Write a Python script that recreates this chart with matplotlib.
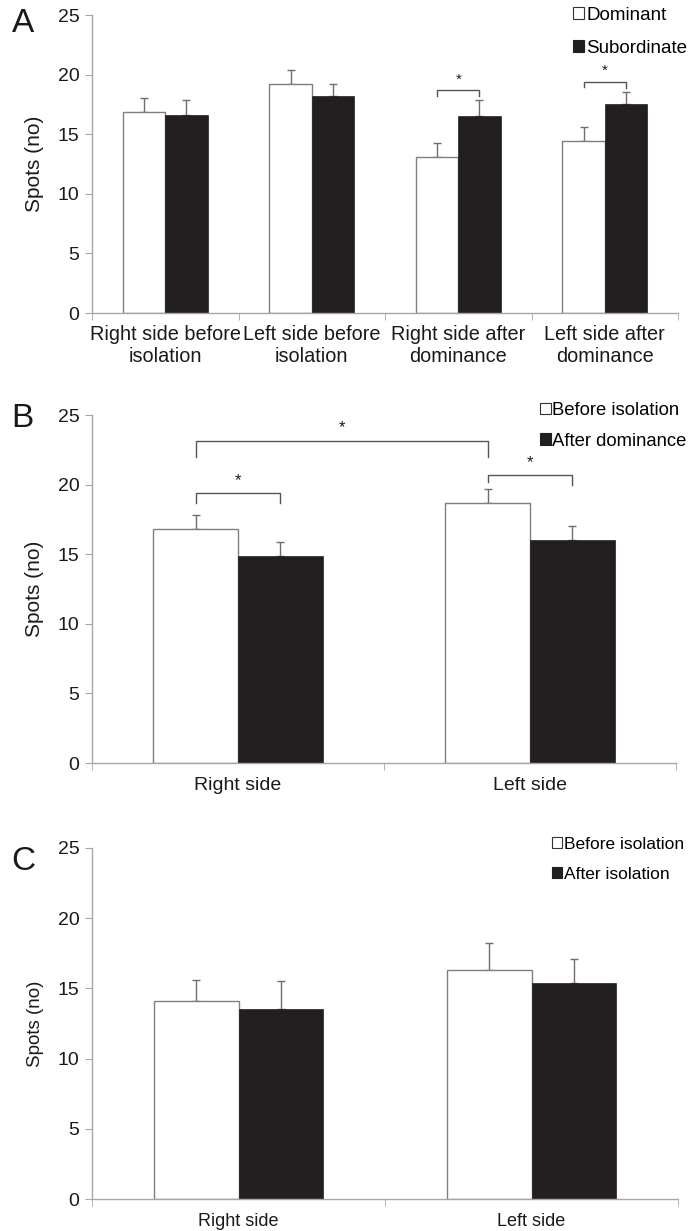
import matplotlib
matplotlib.use("Agg")
import matplotlib.pyplot as plt
from matplotlib.patches import Patch
import numpy as np

plt.rcParams['font.family'] = ['Liberation Sans', 'DejaVu Sans']

# ---------------- data ----------------
a_categories = ["Right side before\nisolation", "Left side before\nisolation",
                "Right side after\ndominance", "Left side after\ndominance"]
a_series = ["Dominant", "Subordinate"]
a_dominant = [16.9, 19.2, 13.1, 14.4]
a_dominant_err = [1.1, 1.2, 1.2, 1.2]
a_subordinate = [16.6, 18.2, 16.5, 17.5]
a_subordinate_err = [1.3, 1.0, 1.4, 1.0]

b_categories = ["Right side", "Left side"]
b_series = ["Before isolation", "After dominance"]
b_before = [16.8, 18.7]
b_before_err = [1.0, 1.0]
b_after = [14.9, 16.0]
b_after_err = [1.0, 1.0]

c_categories = ["Right side", "Left side"]
c_series = ["Before isolation", "After isolation"]
c_before = [14.1, 16.3]
c_before_err = [1.5, 1.9]
c_after = [13.5, 15.4]
c_after_err = [2.0, 1.7]

yticks = [0, 5, 10, 15, 20, 25]

# ---------------- style ----------------
W, H = 692, 1231
DARK = "#231f20"
EDGE = "#7f7f7f"
SPINE = "#a6a6a6"
ERR = "#6e6e6e"
TXT = "#1a1a1a"
BW = 0.29

fig = plt.figure(figsize=(W / 100, H / 100), dpi=100)


def px_axes(l, t, r, b):
    return fig.add_axes([l / W, 1 - b / H, (r - l) / W, (b - t) / H])


def draw_panel(ax, cats, v1, e1, v2, e2, tick_fs, xl_fs, yl_fs, xpad):
    n = len(cats)
    x = np.arange(n)
    ax.bar(x - BW / 2, v1, BW, color="white", edgecolor=EDGE, linewidth=1.0, zorder=2)
    ax.bar(x + BW / 2, v2, BW, color=DARK, edgecolor=DARK, linewidth=0.5, zorder=2)
    ax.errorbar(x - BW / 2, v1, yerr=[np.zeros(n), e1], fmt="none", ecolor=ERR,
                elinewidth=1.0, capsize=3, capthick=1.0, zorder=1)
    ax.errorbar(x + BW / 2, v2, yerr=[np.zeros(n), e2], fmt="none", ecolor=ERR,
                elinewidth=1.0, capsize=3, capthick=1.0, zorder=1)
    ax.set_xlim(-0.5, n - 0.5)
    ax.set_ylim(0, 25)
    ax.set_yticks(yticks)
    ax.set_xticks(x)
    ax.set_xticklabels(cats, fontsize=xl_fs, color=TXT, linespacing=1.15)
    ax.set_xticks(np.arange(n + 1) - 0.5, minor=True)
    ax.tick_params(axis="x", which="major", length=0, pad=xpad)
    ax.tick_params(axis="x", which="minor", length=5, color=SPINE, direction="out")
    ax.tick_params(axis="y", length=5, color=SPINE, direction="out", labelsize=tick_fs,
                   labelcolor=TXT, pad=4)
    for s in ("top", "right"):
        ax.spines[s].set_visible(False)
    for s in ("left", "bottom"):
        ax.spines[s].set_color(SPINE)
        ax.spines[s].set_linewidth(1.0)
    ax.set_ylabel("Spots (no)", fontsize=yl_fs, color=TXT)
    ax.yaxis.set_label_coords(-0.082, 0.5)
    ax.set_facecolor("none")


def bracket(ax, x0, x1, top, leg0, leg1, star_y, fs=12):
    ax.plot([x0, x0, x1, x1], [leg0, top, top, leg1], color="#555555", lw=1.0, zorder=3)
    ax.text((x0 + x1) / 2, star_y, "*", ha="center", va="center", fontsize=fs, color=TXT)


def legend(ax, labels, left, top, fs, spacing, pad=0.15):
    handles = [Patch(facecolor="white", edgecolor="#333333", linewidth=0.8),
               Patch(facecolor=DARK, edgecolor=DARK, linewidth=0.8)]
    ax.legend(handles, labels, loc="upper left", bbox_to_anchor=(left / W, 1 - top / H),
              bbox_transform=fig.transFigure, frameon=False, fontsize=fs,
              handlelength=0.6, handleheight=0.6, handletextpad=pad,
              labelspacing=spacing, borderpad=0, borderaxespad=0)


# ---------------- Panel A ----------------
axA = px_axes(92, 15, 678, 313)
draw_panel(axA, a_categories, a_dominant, a_dominant_err, a_subordinate, a_subordinate_err,
           tick_fs=14, xl_fs=14.3, yl_fs=15, xpad=9)
bracket(axA, 2 - BW / 2, 2 + BW / 2, 18.7, 18.2, 18.2, 19.6, fs=11)
bracket(axA, 3 - BW / 2, 3 + BW / 2, 19.4, 19.0, 18.9, 20.3, fs=11)
legend(axA, a_series, 573, 7, 13.5, 0.85, pad=0.1)
fig.text(23 / W, 1 - 24 / H, "A", fontsize=24, ha="center", va="center", color=TXT)

# ---------------- Panel B ----------------
axB = px_axes(92, 415, 676, 763)
draw_panel(axB, b_categories, b_before, b_before_err, b_after, b_after_err,
           tick_fs=14, xl_fs=14, yl_fs=15, xpad=10)
bracket(axB, 0 - BW / 2, 1 - BW / 2, 23.1, 22.0, 22.0, 24.1, fs=12)
bracket(axB, 0 - BW / 2, 0 + BW / 2, 19.4, 18.7, 18.7, 20.3, fs=12)
bracket(axB, 1 - BW / 2, 1 + BW / 2, 20.7, 20.2, 20.0, 21.6, fs=12)
legend(axB, b_series, 540, 402, 13.3, 0.75, pad=0.05)
fig.text(22 / W, 1 - 419 / H, "B", fontsize=24, ha="center", va="center", color=TXT)

# ---------------- Panel C ----------------
axC = px_axes(92, 848, 678, 1199)
draw_panel(axC, c_categories, c_before, c_before_err, c_after, c_after_err,
           tick_fs=14, xl_fs=13, yl_fs=13.5, xpad=10)
legend(axC, c_series, 552, 837, 12.5, 0.85, pad=0.1)
fig.text(23 / W, 1 - 862 / H, "C", fontsize=24, ha="center", va="center", color=TXT)

fig.savefig("out.png", dpi=100)
